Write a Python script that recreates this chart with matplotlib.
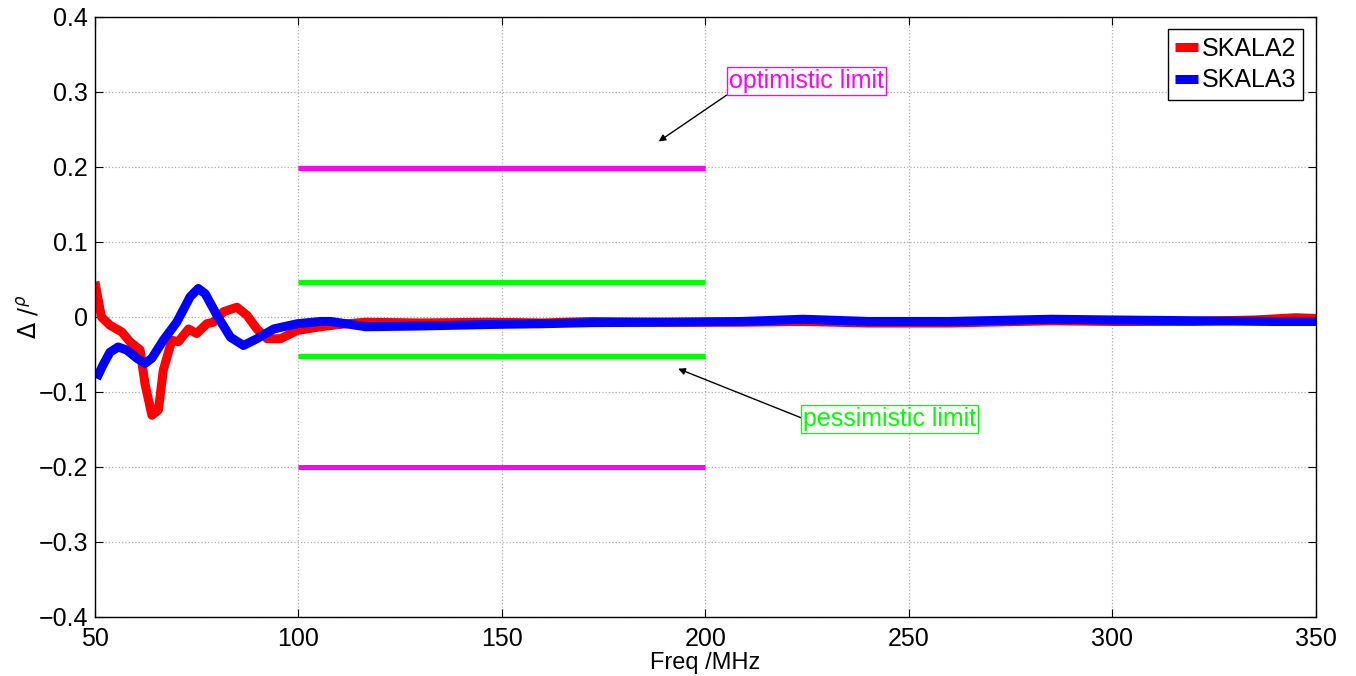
import matplotlib
matplotlib.use("Agg")
import matplotlib.pyplot as plt

# SKALA2 curve (red)
skala2_freq = [50, 51.6, 53.7, 56.6, 58.6, 61.1, 62.3, 64, 65.6, 66.8, 68.9, 70.5, 73, 75, 77.5,
               79.1, 81.6, 84.9, 87.4, 89.8, 92.3, 95.6, 99.7, 105.4, 110, 116.5, 130, 147, 160,
               172, 190, 209, 224, 240, 260, 285, 300, 320, 335, 345, 350]
skala2_val = [0.047, 0.0, -0.011, -0.02, -0.033, -0.044, -0.089, -0.131, -0.124, -0.071, -0.031,
              -0.033, -0.016, -0.022, -0.009, -0.007, 0.007, 0.013, 0.002, -0.016, -0.029, -0.029,
              -0.018, -0.013, -0.01, -0.007, -0.008, -0.007, -0.008, -0.006, -0.007, -0.007,
              -0.006, -0.008, -0.008, -0.005, -0.006, -0.006, -0.004, -0.001, -0.002]

# SKALA3 curve (blue)
skala3_freq = [50.4, 52, 53.7, 55.7, 57.8, 60.3, 62.3, 64, 66.8, 70.1, 73.4, 75.4, 77.1, 80, 83.3,
               86.5, 89.8, 93.9, 99.7, 105.4, 108, 116.5, 130, 147, 160, 172, 190, 209, 224, 240,
               260, 285, 300, 320, 340, 350]
skala3_val = [-0.082, -0.064, -0.047, -0.04, -0.044, -0.055, -0.062, -0.055, -0.031, -0.007, 0.027,
              0.038, 0.031, 0.002, -0.027, -0.038, -0.029, -0.016, -0.009, -0.006, -0.006, -0.013,
              -0.012, -0.010, -0.009, -0.0075, -0.007, -0.006, -0.003, -0.006, -0.006, -0.003,
              -0.004, -0.005, -0.006, -0.006]

# limit lines between 100 and 200 MHz
limit_span = [100, 200]
optimistic_limits = [0.198, -0.2]
pessimistic_limits = [0.047, -0.052]

plt.rcParams.update({"font.family": ["Liberation Sans", "DejaVu Sans"], "font.size": 18,
                     "mathtext.fontset": "dejavusans"})

fig = plt.figure(figsize=(13.56, 6.76), dpi=100, facecolor="white")
ax = fig.add_axes([0.070, 0.0873, 0.9005, 0.8876])

for level in optimistic_limits:
    ax.plot(limit_span, [level, level], color="#FF00FF", linewidth=3.6, solid_capstyle="butt")
for level in pessimistic_limits:
    ax.plot(limit_span, [level, level], color="#00FF00", linewidth=3.6, solid_capstyle="butt")

ax.plot(skala2_freq, skala2_val, color="#FF0000", linewidth=6.5, label="SKALA2",
        solid_joinstyle="round", solid_capstyle="butt")
ax.plot(skala3_freq, skala3_val, color="#0000FF", linewidth=6.5, label="SKALA3",
        solid_joinstyle="round", solid_capstyle="butt")

ax.set_xlim(50, 350)
ax.set_ylim(-0.4, 0.4)
ax.set_xticks(range(50, 351, 50))
ax.set_yticks([-0.4, -0.3, -0.2, -0.1, 0, 0.1, 0.2, 0.3, 0.4])
ax.set_yticklabels(["\u22120.4", "\u22120.3", "\u22120.2", "\u22120.1", "0", "0.1", "0.2", "0.3", "0.4"])
ax.grid(True, linestyle=":", color="#B0B0B0", linewidth=0.9)
ax.tick_params(direction="in", length=6, top=True, right=True, labelsize=18)
ax.tick_params(axis="x", pad=7)
ax.tick_params(axis="y", pad=5)
for spine in ax.spines.values():
    spine.set_linewidth(1.0)

ax.set_xlabel("Freq /MHz", fontsize=17, labelpad=1)
ax.set_ylabel(r"$\Delta\ /^{\rho}$", fontsize=17, labelpad=-2)

ax.annotate("optimistic limit", xy=(188.5, 0.234), xytext=(205.8, 0.298),
            color="#FF00FF", fontsize=18, ha="left", va="bottom",
            bbox=dict(boxstyle="square,pad=0.08", facecolor="white", edgecolor="#FF00FF", linewidth=1),
            arrowprops=dict(arrowstyle="-|>", color="black", linewidth=1, mutation_scale=10,
                            shrinkA=0, shrinkB=0, relpos=(0, 0)))
ax.annotate("pessimistic limit", xy=(193.3, -0.069), xytext=(224.0, -0.1355),
            color="#00FF00", fontsize=18, ha="left", va="center",
            bbox=dict(boxstyle="square,pad=0.08", facecolor="white", edgecolor="#00FF00", linewidth=1),
            arrowprops=dict(arrowstyle="-|>", color="black", linewidth=1, mutation_scale=10,
                            shrinkA=0, shrinkB=0, relpos=(0, 0.5)))

leg = ax.legend(loc="upper right", fontsize=18, handlelength=0.9, handletextpad=0.15,
                borderpad=0.3, labelspacing=0.3, fancybox=False, framealpha=1,
                borderaxespad=0.5)
leg.get_frame().set_edgecolor("black")
leg.get_frame().set_linewidth(1.0)

fig.savefig("out.png", dpi=100, facecolor="white")
